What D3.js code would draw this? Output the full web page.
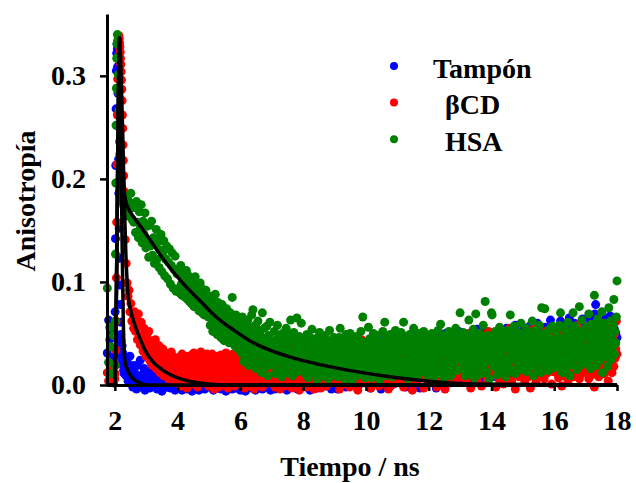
<!DOCTYPE html>
<html>
<head>
<meta charset="utf-8">
<script src="https://cdn.jsdelivr.net/npm/d3@7"></script>
<style>
  html, body { margin: 0; padding: 0; background: #fff; }
  svg { display: block; }
  text { font-family: "Liberation Serif", "Times New Roman", serif; font-weight: bold; fill: #000; }
</style>
</head>
<body>
<svg id="chart" width="636" height="483"></svg>
<script>
// Time channels (ns)
const tiempo = [
  1.76,1.80,1.84,1.88,1.92,1.96,
  2.00,2.01,2.02,2.03,2.04,2.05,2.06,2.07,2.08,2.09,2.10,2.11,2.12,2.13,2.14,2.15,
  2.16,2.17,2.18,2.19,2.20,2.21,2.22,2.23,2.24,2.25,2.26,2.27,2.28,2.29,2.30,
  2.33,2.36,2.39,2.42,2.45,2.48,2.51,2.54,2.57,2.60,
  2.63,2.66,2.69,2.72,2.75,2.78,2.81,2.84,2.87,2.90,2.93,2.96,2.99,3.02,3.05,3.08,
  3.11,3.14,3.17,3.20,3.23,3.26,3.29,3.32,3.35,3.38,3.41,3.44,3.47,3.50,3.53,3.56,
  3.59,3.62,3.65,3.68,3.71,3.74,3.77,3.80,3.83,3.86,3.89,3.92,3.95,3.98,
  4.02,4.04,4.06,4.08,4.10,4.12,4.14,4.16,4.18,4.20,4.22,4.24,4.26,4.28,4.30,4.32,4.34,4.36,4.38,4.40,4.42,4.44,4.46,4.48,4.50,
  4.52,4.54,4.56,4.58,4.60,4.62,4.64,4.66,4.68,4.70,4.72,4.74,4.76,4.78,4.80,4.82,4.84,4.86,4.88,4.90,4.92,4.94,4.96,4.98,5.00,
  5.02,5.04,5.06,5.08,5.10,5.12,5.14,5.16,5.18,5.20,5.22,5.24,5.26,5.28,5.30,5.32,5.34,5.36,5.38,5.40,5.42,5.44,5.46,5.48,5.50,
  5.52,5.54,5.56,5.58,5.60,5.62,5.64,5.66,5.68,5.70,5.72,5.74,5.76,5.78,5.80,5.82,5.84,5.86,5.88,5.90,5.92,5.94,5.96,5.98,6.00,
  6.02,6.04,6.06,6.08,6.10,6.12,6.14,6.16,6.18,6.20,6.22,6.24,6.26,6.28,6.30,6.32,6.34,6.36,6.38,6.40,6.42,6.44,6.46,6.48,6.50,
  6.52,6.54,6.56,6.58,6.60,6.62,6.64,6.66,6.68,6.70,6.72,6.74,6.76,6.78,6.80,6.82,6.84,6.86,6.88,6.90,6.92,6.94,6.96,6.98,7.00,
  7.02,7.04,7.06,7.08,7.10,7.12,7.14,7.16,7.18,7.20,7.22,7.24,7.26,7.28,7.30,7.32,7.34,7.36,7.38,7.40,7.42,7.44,7.46,7.48,7.50,
  7.52,7.54,7.56,7.58,7.60,7.62,7.64,7.66,7.68,7.70,7.72,7.74,7.76,7.78,7.80,7.82,7.84,7.86,7.88,7.90,7.92,7.94,7.96,7.98,8.00,
  8.02,8.04,8.06,8.08,8.10,8.12,8.14,8.16,8.18,8.20,8.22,8.24,8.26,8.28,8.30,8.32,8.34,8.36,8.38,8.40,8.42,8.44,8.46,8.48,8.50,
  8.52,8.54,8.56,8.58,8.60,8.62,8.64,8.66,8.68,8.70,8.72,8.74,8.76,8.78,8.80,8.82,8.84,8.86,8.88,8.90,8.92,8.94,8.96,8.98,9.00,
  9.02,9.04,9.06,9.08,9.10,9.12,9.14,9.16,9.18,9.20,9.22,9.24,9.26,9.28,9.30,9.32,9.34,9.36,9.38,9.40,9.42,9.44,9.46,9.48,9.50,
  9.52,9.54,9.56,9.58,9.60,9.62,9.64,9.66,9.68,9.70,9.72,9.74,9.76,9.78,9.80,9.82,9.84,9.86,9.88,9.90,9.92,9.94,9.96,9.98,10.00,
  10.02,10.04,10.06,10.08,10.10,10.12,10.14,10.16,10.18,10.20,10.22,10.24,10.26,10.28,10.30,10.32,10.34,10.36,10.38,10.40,10.42,10.44,10.46,10.48,10.50,
  10.52,10.54,10.56,10.58,10.60,10.62,10.64,10.66,10.68,10.70,10.72,10.74,10.76,10.78,10.80,10.82,10.84,10.86,10.88,10.90,10.92,10.94,10.96,10.98,11.00,
  11.02,11.04,11.06,11.08,11.10,11.12,11.14,11.16,11.18,11.20,11.22,11.24,11.26,11.28,11.30,11.32,11.34,11.36,11.38,11.40,11.42,11.44,11.46,11.48,11.50,
  11.52,11.54,11.56,11.58,11.60,11.62,11.64,11.66,11.68,11.70,11.72,11.74,11.76,11.78,11.80,11.82,11.84,11.86,11.88,11.90,11.92,11.94,11.96,11.98,12.00,
  12.02,12.04,12.06,12.08,12.10,12.12,12.14,12.16,12.18,12.20,12.22,12.24,12.26,12.28,12.30,12.32,12.34,12.36,12.38,12.40,12.42,12.44,12.46,12.48,12.50,
  12.52,12.54,12.56,12.58,12.60,12.62,12.64,12.66,12.68,12.70,12.72,12.74,12.76,12.78,12.80,12.82,12.84,12.86,12.88,12.90,12.92,12.94,12.96,12.98,13.00,
  13.02,13.04,13.06,13.08,13.10,13.12,13.14,13.16,13.18,13.20,13.22,13.24,13.26,13.28,13.30,13.32,13.34,13.36,13.38,13.40,13.42,13.44,13.46,13.48,13.50,
  13.52,13.54,13.56,13.58,13.60,13.62,13.64,13.66,13.68,13.70,13.72,13.74,13.76,13.78,13.80,13.82,13.84,13.86,13.88,13.90,13.92,13.94,13.96,13.98,14.00,
  14.02,14.04,14.06,14.08,14.10,14.12,14.14,14.16,14.18,14.20,14.22,14.24,14.26,14.28,14.30,14.32,14.34,14.36,14.38,14.40,14.42,14.44,14.46,14.48,14.50,
  14.52,14.54,14.56,14.58,14.60,14.62,14.64,14.66,14.68,14.70,14.72,14.74,14.76,14.78,14.80,14.82,14.84,14.86,14.88,14.90,14.92,14.94,14.96,14.98,15.00,
  15.02,15.04,15.06,15.08,15.10,15.12,15.14,15.16,15.18,15.20,15.22,15.24,15.26,15.28,15.30,15.32,15.34,15.36,15.38,15.40,15.42,15.44,15.46,15.48,15.50,
  15.52,15.54,15.56,15.58,15.60,15.62,15.64,15.66,15.68,15.70,15.72,15.74,15.76,15.78,15.80,15.82,15.84,15.86,15.88,15.90,15.92,15.94,15.96,15.98,16.00,
  16.02,16.04,16.06,16.08,16.10,16.12,16.14,16.16,16.18,16.20,16.22,16.24,16.26,16.28,16.30,16.32,16.34,16.36,16.38,16.40,16.42,16.44,16.46,16.48,16.50,
  16.52,16.54,16.56,16.58,16.60,16.62,16.64,16.66,16.68,16.70,16.72,16.74,16.76,16.78,16.80,16.82,16.84,16.86,16.88,16.90,16.92,16.94,16.96,16.98,17.00,
  17.02,17.04,17.06,17.08,17.10,17.12,17.14,17.16,17.18,17.20,17.22,17.24,17.26,17.28,17.30,17.32,17.34,17.36,17.38,17.40,17.42,17.44,17.46,17.48,17.50,
  17.52,17.54,17.56,17.58,17.60,17.62,17.64,17.66,17.68,17.70,17.72,17.74,17.76,17.78,17.80,17.82,17.84,17.86,17.88,17.90,17.92,17.94,17.96,17.98,18.00
];

// Anisotropy, buffer solution
const tampon = [
  .031,.063,.044,.018,.052,.027,
  .036,.071,.142,.213,.268,.305,.322,.331,.326,.309,.283,.251,.219,.186,.152,.123,
  .097,.078,.061,.049,.043,.035,.029,.038,.024,.031,.019,.026,.014,.022,.011,
  .017,.009,.023,.004,.014,.028,.007,.012,-.002,.019,
  .012,.003,-.004,.019,.007,.001,.024,-.002,.010,.005,.016,-.005,.008,.029,.002,.013,
  -.003,.006,.021,.009,-.001,.015,.004,.026,-.004,.011,.002,.018,.007,-.006,.013,.003,
  .022,.008,-.002,.017,.005,.010,-.003,.027,.006,.001,.014,-.005,.009,.020,
  .004,-.003,.011,.019,.001,.008,-.005,.013,.006,.022,-.001,.009,.015,.002,-.004,.012,.007,.018,-.002,.010,.003,.016,-.006,.008,.014,
  .000,.021,.005,-.003,.011,.017,.002,.009,-.005,.013,.024,.004,.010,-.001,.015,.006,.019,-.004,.012,.001,.008,.026,-.002,.014,.005,
  .006,.017,-.002,.011,.024,.003,-.005,.014,.008,.020,.001,.012,-.003,.018,.007,.025,.002,.010,-.004,.015,.009,.021,-.001,.013,.005,
  .019,-.006,.011,.027,.004,.014,-.002,.008,.022,.003,.016,-.004,.010,.018,.001,.012,.029,.006,-.003,.015,.009,.023,.002,.017,-.005,
  .011,-.004,.019,.007,.026,.002,.014,-.006,.009,.022,.004,.017,-.002,.012,.028,.006,.016,-.003,.021,.010,.001,.024,.013,-.005,.018,
  .008,.030,.003,.015,-.001,.020,.011,.005,.027,-.004,.013,.023,.007,.017,.002,.025,-.002,.010,.019,.006,.031,.012,-.005,.016,.009,
  .008,.023,.003,.016,-.004,.029,.011,.019,.002,.013,.031,-.003,.020,.009,.025,.005,.015,-.001,.027,.012,.034,.006,.018,-.005,.022,
  .010,.026,.001,.014,.030,.004,.017,.024,-.002,.011,.033,.007,.021,.015,.028,-.004,.013,.036,.009,.019,.003,.025,.016,.032,.006,
  .014,.003,.026,.010,.032,-.002,.019,.008,.024,.015,-.005,.029,.012,.037,.004,.021,.009,.027,.001,.017,.033,.011,-.003,.025,.016,
  .006,.030,.013,.039,.002,.022,.018,.007,.035,-.001,.028,.012,.020,.005,.031,.016,.041,.009,.024,-.004,.019,.034,.010,.026,.014,
  .020,.007,.030,.013,-.004,.024,.036,.010,.018,.003,.028,.015,.039,.006,.022,.012,.033,-.002,.019,.027,.009,.041,.014,.025,.004,
  .031,.017,.044,.008,.023,.035,.001,.026,.012,.038,.019,-.003,.029,.016,.034,.006,.022,.043,.011,.030,.018,.005,.037,.024,.013,
  .017,.031,.008,.023,.040,.012,-.003,.027,.016,.035,.005,.021,.029,.011,.044,.018,.002,.032,.024,.009,.038,.014,.026,-.004,.030,
  .020,.046,.007,.033,.015,.025,.003,.036,.019,.028,.010,.042,.022,-.001,.031,.013,.039,.017,.027,.006,.034,.048,.021,.011,.029,
  .013,.028,.036,.007,.022,.041,.015,.030,.003,.025,.037,.011,-.002,.033,.019,.027,.045,.008,.021,.035,.014,.029,.006,.039,.018,
  .032,.012,.047,.024,.004,.034,.020,.040,.010,.026,-.003,.031,.016,.043,.023,.009,.036,.028,.014,.049,.019,.033,.005,.038,.025,
  .024,.009,.034,.017,.043,.026,.004,.031,.012,.038,.021,-.003,.029,.046,.015,.035,.007,.024,.040,.018,.032,.010,.044,.022,.027,
  .013,.050,.030,.006,.036,.019,.041,.025,.002,.033,.016,.047,.028,.011,.039,.023,.035,.008,.045,.020,.031,.014,.052,.026,.037,
  .016,.037,.025,.006,.033,.048,.019,.028,.011,.041,.023,.035,.002,.030,.045,.014,.039,.026,.008,.050,.020,.033,.017,.043,.029,
  .010,.054,.036,.022,.039,.013,.046,.031,.004,.040,.024,.051,.018,.035,.027,.044,.009,.032,.048,.021,.038,.015,.042,.029,.034,
  .035,.012,.042,.027,.019,.047,.008,.031,.038,.022,.052,.014,.034,.026,.004,.044,.029,.039,.017,.049,.024,.011,.036,.055,.021,
  .040,.030,.016,.046,.033,.007,.043,.025,.050,.018,.037,.028,.058,.013,.041,.032,.020,.048,.027,.039,.010,.045,.035,.023,.053,
  .028,.046,.015,.037,.053,.023,.033,.009,.041,.030,.057,.019,.036,.044,.012,.026,.050,.034,.021,.047,.016,.039,.060,.027,.043,
  .031,.014,.052,.038,.022,.048,.033,.011,.045,.026,.056,.035,.018,.042,.029,.051,.024,.040,.063,.032,.020,.047,.037,.013,.044,
  .038,.022,.049,.031,.044,.013,.055,.035,.026,.062,.018,.041,.033,.052,.009,.047,.029,.058,.037,.024,.050,.015,.040,.065,.030,
  .044,.021,.056,.036,.048,.027,.060,.016,.042,.034,.053,.023,.046,.039,.031,.057,.019,.045,.035,.064,.028,.049,.041,.025,.052,
  .045,.027,.056,.036,.048,.018,.063,.039,.052,.031,.044,.024,.058,.034,.069,.078,.021,.050,.040,.055,.029,.061,.037,.047,.033,
  .053,.026,.043,.055,.035,.064,.022,.049,.038,.058,.030,.046,.041,.067,.032,.051,.036,.057,.044,.028,.054,.039,.050,.046,.046
];

// Anisotropy, beta-cyclodextrin
const betaCD = [
  .012,.004,.021,.008,.016,.002,
  .006,.011,.019,.034,.062,.104,.158,.214,.262,.297,.318,.331,.337,.339,.336,.332,
  .328,.323,.317,.311,.304,.296,.287,.276,.262,.249,.233,.218,.203,.188,.172,
  .141,.118,.099,.086,.092,.071,.079,.062,.069,.055,
  .071,.052,.063,.044,.069,.057,.039,.061,.048,.033,.055,.041,.028,.049,.037,.052,
  .024,.043,.031,.019,.039,.027,.044,.016,.034,.022,.038,.012,.029,.021,.035,.009,
  .026,.031,.014,.024,.006,.029,.018,.032,.011,.022,.027,.004,.019,.025,
  .021,.008,.027,.013,-.001,.018,.030,.006,.015,.024,.003,.019,.011,.028,-.003,.016,.022,.009,.026,.004,.017,.029,.012,.001,.020,
  .031,.010,.023,.005,.014,.027,-.002,.018,.009,.025,.013,.032,.002,.021,.011,.016,.028,.004,.019,.024,.007,.030,.012,-.001,.022,
  .014,.025,.002,.019,.030,.008,.017,-.004,.023,.011,.027,.005,.016,.028,.010,-.002,.021,.013,.029,.006,.018,.024,.001,.015,.026,
  .009,.031,.012,.020,-.003,.016,.028,.007,.022,.003,.025,.014,.030,.010,.019,-.001,.024,.012,.027,.006,.018,.029,.004,.021,.013,
  .009,.022,.031,.004,.017,.026,-.003,.013,.028,.007,.020,.032,.011,-.001,.024,.016,.029,.005,.019,.012,.027,-.004,.021,.010,.030,
  .015,.003,.025,.018,.033,.008,.023,.013,.028,-.002,.019,.034,.006,.016,.026,.011,.029,.002,.022,.014,.031,.007,.020,.025,.012,
  .018,.004,.026,.012,-.002,.030,.015,.008,.022,.001,.027,.013,-.004,.019,.033,.007,.024,.011,.029,-.001,.016,.035,.005,.021,.010,
  .028,.002,.017,.031,.009,.023,-.003,.014,.026,.006,.037,.019,.003,.025,.012,.030,.008,.020,-.005,.016,.027,.011,.034,.004,.022,
  .009,.025,.013,.031,-.002,.018,.006,.028,.015,.040,.003,.021,.011,.033,.007,.024,-.004,.016,.029,.012,.036,.001,.019,.026,.008,
  .014,.032,-.003,.023,.010,.027,.017,.005,.038,.013,.022,-.001,.030,.009,.020,.015,.034,.002,.025,.011,.042,.018,.006,.028,.014,
  .021,.007,.030,.016,.003,.026,.012,-.004,.035,.019,.010,.028,.005,.023,.041,.014,.001,.031,.017,.008,.025,.013,.037,-.002,.020,
  .029,.006,.018,.033,.011,.024,.004,.016,.039,.009,.027,-.005,.022,.013,.032,.007,.019,.044,.015,.026,.002,.030,.012,.021,.036,
  .014,.031,.006,.022,.011,.038,.018,-.003,.027,.009,.033,.016,.024,.002,.043,.013,.029,.007,.020,.035,-.001,.025,.012,.031,.017,
  .005,.040,.021,.010,.028,.015,.036,.003,.023,.030,-.004,.019,.046,.008,.026,.013,.032,.018,.001,.024,.037,.011,.027,.006,.034,
  .028,.010,.035,.019,.004,.030,.014,.042,.022,-.002,.017,.033,.008,.026,.013,.039,.021,.003,.029,.016,.045,.011,.024,-.005,.031,
  .019,.007,.036,.015,.027,.002,.022,.038,.012,.030,.018,.048,.009,.025,.034,.014,-.003,.028,.020,.041,.006,.032,.017,.023,.011,
  .023,.037,.011,.029,.005,.033,.018,.044,.026,.008,.031,.015,-.002,.036,.021,.013,.040,.027,.004,.024,.034,.010,.047,.019,.029,
  -.004,.017,.038,.012,.025,.006,.032,.020,.043,.014,.028,.009,.035,.022,.050,.016,.030,.003,.026,.039,.011,.021,.045,.018,.033,
  .012,.034,.024,.041,.007,.028,.017,.046,.021,.003,.036,.014,.029,.050,.010,.025,-.003,.032,.019,.038,.008,.027,.043,.015,.022,
  .035,.005,.030,.049,.013,.026,.039,.018,-.001,.033,.020,.044,.011,.028,.016,.037,.023,.006,.031,.052,.014,.025,.040,.009,.034,
  .029,.010,.043,.021,.035,.015,-.002,.031,.048,.018,.026,.006,.039,.022,.034,.012,.051,.027,.001,.036,.016,.044,.030,.009,.024,
  .040,.013,.033,.055,.020,.037,.004,.028,.046,.017,.032,.023,-.004,.041,.014,.030,.019,.036,.008,.045,.025,.011,.038,.027,.024,
  .038,.018,.004,.041,.026,.013,.050,.030,.008,.035,.021,-.003,.046,.016,.033,.025,.054,.011,.039,.028,.003,.043,.020,.035,.014,
  .048,.024,.031,.009,.037,.019,.042,.027,.006,.033,.052,.015,.029,.040,.012,.036,.022,.047,.017,.031,.001,.038,.026,.044,.013,
  .025,.047,.012,.033,.020,.056,.007,.037,.028,.015,.042,-.001,.030,.051,.018,.035,.010,.045,.024,.013,.039,.004,.033,.049,.021,
  .029,.016,.053,.036,.008,.044,.023,.031,.014,.040,.027,.058,.019,.034,.006,.048,.026,.038,.011,.032,.050,.022,.041,.017,.029,
  .032,.014,.044,.027,.006,.039,.057,.019,.035,.010,.047,.024,.040,-.002,.030,.053,.016,.037,.022,.045,.008,.033,.042,.013,.036,
  .060,.020,.029,.048,.011,.038,.025,.051,.017,.034,.004,.043,.028,.055,.021,.039,.012,.046,.031,.018,.050,.026,.035,.062,.030
];

// Anisotropy, human serum albumin
const hsa = [
  .094,.022,.056,.037,.011,.048,
  .019,.062,.127,.196,.252,.288,.317,.331,.340,.334,.318,.301,.284,.266,.251,.236,
  .224,.213,.206,.197,.194,.188,.191,.183,.186,.179,.184,.176,.181,.174,.178,
  .171,.183,.168,.179,.164,.177,.186,.161,.172,.158,
  .173,.148,.178,.158,.143,.168,.152,.175,.138,.159,.146,.167,.133,.154,.141,.124,
  .155,.135,.159,.126,.143,.118,.136,.151,.122,.139,.114,.131,.146,.110,.127,.140,
  .106,.122,.135,.103,.119,.132,.098,.116,.128,.094,.112,.125,.091,.108,
  .112,.094,.107,.089,.116,.098,.087,.110,.101,.092,.104,.085,.099,.111,.090,.083,.106,.095,.081,.100,.093,.079,.102,.088,.097,
  .076,.091,.105,.084,.094,.078,.096,.087,.072,.091,.099,.081,.086,.070,.093,.083,.068,.089,.076,.092,.071,.081,.087,.066,.079,
  .079,.058,.086,.066,.074,.052,.083,.063,.071,.088,.057,.072,.049,.080,.064,.053,.075,.061,.046,.069,.078,.055,.066,.043,.071,
  .059,.048,.074,.062,.052,.065,.041,.060,.070,.049,.057,.085,.044,.063,.051,.038,.059,.068,.046,.055,.035,.062,.049,.041,.057,
  .058,.031,.066,.044,.023,.052,.038,.061,.027,.049,.035,.063,.019,.046,.056,.029,.041,.068,.033,.073,.024,.050,.037,.058,.016,
  .044,.030,.062,.039,.021,.053,.034,.047,.012,.070,.040,.026,.055,.031,.045,.018,.057,.036,.009,.048,.028,.061,.033,.042,.022,
  .041,.019,.036,.052,.027,.011,.044,.030,.058,.023,.035,.014,.047,.026,.039,.008,.050,.032,.021,.043,.017,.037,.055,.029,.012,
  .040,.024,.048,.033,.063,.020,.045,.009,.034,.051,.027,.016,.042,.031,.065,.013,.038,.025,.047,.019,.036,.060,.028,.044,.015,
  .026,.043,.011,.035,.020,.049,.031,.007,.039,.024,.046,.016,.033,.054,.022,.040,.012,.029,.045,.018,.036,.005,.027,.042,.014,
  .051,.031,.023,.038,.009,.044,.025,.019,.034,.048,.013,.030,.041,.021,.006,.037,.053,.017,.028,.043,.024,.010,.035,.046,.020,
  .032,.015,.041,.023,.008,.037,.046,.019,.055,.028,.012,.034,.044,.021,.039,.006,.027,.049,.016,.031,.042,.024,.010,.036,.050,
  .018,.029,.004,.040,.025,.045,.013,.033,.022,.047,.009,.038,.026,.017,.043,.030,.052,.020,.035,.066,.014,.041,.028,.007,.037,
  .024,.039,.013,.056,.030,.045,.018,.034,.007,.042,.027,.050,.016,.036,.022,.044,.011,.031,.048,.020,.038,.005,.029,.043,.015,
  .033,.052,.025,.040,.061,.019,.035,.009,.046,.026,.041,.014,.032,.049,.021,.037,.008,.028,.044,.017,.034,.053,.023,.039,.012,
  .030,.046,.017,.038,.024,.051,.009,.035,.042,.061,.020,.033,.047,.014,.028,.040,.006,.037,.025,.049,.018,.034,.043,.011,.031,
  .055,.022,.039,.015,.045,.027,.008,.036,.050,.019,.041,.029,.013,.044,.024,.033,.052,.016,.038,.026,.046,.010,.032,.041,.021,
  .035,.012,.043,.027,.050,.019,.038,.008,.031,.046,.022,.041,.015,.034,.053,.025,.040,.011,.059,.029,.044,.017,.036,.006,.048,
  .032,.021,.039,.013,.045,.028,.052,.018,.037,.009,.043,.026,.034,.049,.016,.040,.023,.055,.030,.014,.042,.027,.047,.035,.070,
  .027,.044,.016,.036,.051,.022,.039,.009,.047,.031,.018,.042,.025,.063,.034,.012,.049,.029,.040,.020,.054,.033,.007,.045,.069,
  .024,.038,.015,.043,.030,.050,.019,.036,.011,.046,.026,.058,.035,.021,.081,.041,.013,.032,.048,.023,.039,.006,.044,.028,.070,
  .068,.031,.045,.018,.038,.052,.024,.041,.010,.035,.047,.021,.056,.029,.014,.043,.033,.050,.019,.039,.026,.046,.008,.037,.053,
  .022,.042,.016,.034,.068,.028,.049,.013,.040,.025,.057,.031,.011,.044,.036,.020,.051,.034,.017,.045,.027,.060,.038,.015,.042,
  .037,.020,.049,.030,.055,.013,.042,.026,.046,.034,.018,.051,.039,.024,.062,.031,.009,.044,.028,.053,.036,.016,.047,.022,.040,
  .058,.027,.035,.012,.075,.043,.023,.050,.032,.074,.019,.038,.048,.025,.041,.014,.054,.033,.045,.021,.039,.057,.029,.044,.017,
  .041,.025,.052,.034,.018,.046,.030,.058,.037,.070,.022,.044,.012,.039,.055,.027,.048,.035,.016,.050,.031,.061,.024,.042,.009,
  .047,.036,.053,.020,.070,.040,.028,.057,.033,.045,.015,.051,.038,.026,.076,.043,.019,.049,.063,.032,.046,.023,.054,.037,.029,
  .035,.056,.021,.048,.069,.031,.044,.016,.059,.038,.026,.050,.042,.087,.033,.053,.019,.046,.064,.029,.040,.057,.024,.049,.036,
  .071,.012,.045,.032,.060,.047,.027,.054,.039,.018,.051,.075,.034,.043,.062,.025,.048,.037,.058,.083,.030,.052,.041,.066,.101
];

// Fitted decay curves [t, r]
const ajusteTampon = [
  [1.76,0],[2.00,0],[2.05,.09],[2.10,.24],[2.15,.337],[2.19,.25],[2.23,.14],
  [2.27,.06],[2.30,.03],[2.33,.022],[2.40,.015],[2.50,.009],[2.62,.005],
  [2.80,.002],[3.00,0],[18,0]
];
const ajusteBetaCD = [
  [1.76,0],[2.00,0],[2.05,.09],[2.10,.24],[2.15,.337],[2.20,.30],[2.25,.245],
  [2.30,.18],[2.35,.128],[2.42,.088],[2.50,.073],[2.64,.058],[2.80,.045],
  [2.96,.034],[3.20,.023],[3.50,.015],[4.00,.007],[4.50,.003],[5.00,.001],
  [5.50,0],[18,0]
];
const ajusteHSA = [
  [1.76,0],[2.00,0],[2.05,.09],[2.10,.24],[2.15,.337],[2.20,.27],[2.25,.215],
  [2.30,.188],[2.36,.177],[2.42,.172],[2.60,.163],[2.96,.148],[3.50,.124],
  [4.13,.100],[4.77,.080],[5.23,.066],[5.80,.053],[6.30,.043],[7.00,.033],
  [7.60,.027],[8.50,.020],[9.70,.013],[11.0,.007],[12.25,.003],[13.5,.001],[18,0]
];

const xTicks = [2, 4, 6, 8, 10, 12, 14, 16, 18];
const yTicks = [0, 0.1, 0.2, 0.3];
const nombres = ["Tampón", "βCD", "HSA"];
const colores = ["#0000ff", "#ff0000", "#008000"];

const svg = d3.select("#chart");
const x = d3.scaleLinear().domain([1.75, 18]).range([107, 617]);
const y = d3.scaleLinear().domain([0, 0.36]).range([385, 14]);

// Scatter of the measured anisotropy
[tampon, betaCD, hsa].forEach((serie, k) => {
  const puntos = tiempo.map((t, i) => [t, serie[i]]).filter(d => d[1] != null);
  svg.append("g")
    .selectAll("circle")
    .data(puntos)
    .join("circle")
    .attr("cx", d => x(d[0]))
    .attr("cy", d => y(d[1]))
    .attr("r", 4.5)
    .attr("fill", colores[k]);
});

// Fit lines
const linea = d3.line().x(d => x(d[0])).y(d => y(d[1])).curve(d3.curveMonotoneX);
[ajusteTampon, ajusteBetaCD, ajusteHSA].forEach(a => {
  svg.append("path")
    .attr("d", linea(a))
    .attr("fill", "none")
    .attr("stroke", "#000")
    .attr("stroke-width", 3.5)
    .attr("stroke-linejoin", "round");
});

// Axes
const gy = svg.append("g")
  .attr("transform", "translate(107,0)")
  .call(d3.axisLeft(y).tickValues(yTicks).tickFormat(d3.format(".1f"))
    .tickSize(7).tickSizeOuter(0).tickPadding(14));
const gx = svg.append("g")
  .attr("transform", "translate(0,385)")
  .call(d3.axisBottom(x).tickValues(xTicks).tickFormat(d3.format("d"))
    .tickSize(6).tickSizeOuter(0).tickPadding(19));
[gx, gy].forEach(g => {
  g.select(".domain").attr("stroke", "#000").attr("stroke-width", 3);
  g.selectAll(".tick line").attr("stroke", "#000").attr("stroke-width", 2.5);
  g.selectAll(".tick text")
    .attr("font-family", "'Liberation Serif', 'Times New Roman', serif")
    .attr("font-weight", "bold").attr("font-size", 28).attr("fill", "#000");
});

// Axis titles
svg.append("text")
  .attr("x", 350).attr("y", 476)
  .attr("text-anchor", "middle")
  .attr("font-size", 28)
  .text("Tiempo / ns");
svg.append("text")
  .attr("transform", "translate(35,201) rotate(-90)")
  .attr("text-anchor", "middle")
  .attr("font-size", 28)
  .text("Anisotropía");

// Legend
const leyenda = svg.append("g");
const textoX = [433, 445, 445];
nombres.forEach((n, i) => {
  const cy = 66 + i * 36.6;
  leyenda.append("circle").attr("cx", 394).attr("cy", cy).attr("r", 4).attr("fill", colores[i]);
  leyenda.append("text").attr("x", textoX[i]).attr("y", cy + 11.5)
    .attr("font-size", 28).text(n);
});
</script>
</body>
</html>
